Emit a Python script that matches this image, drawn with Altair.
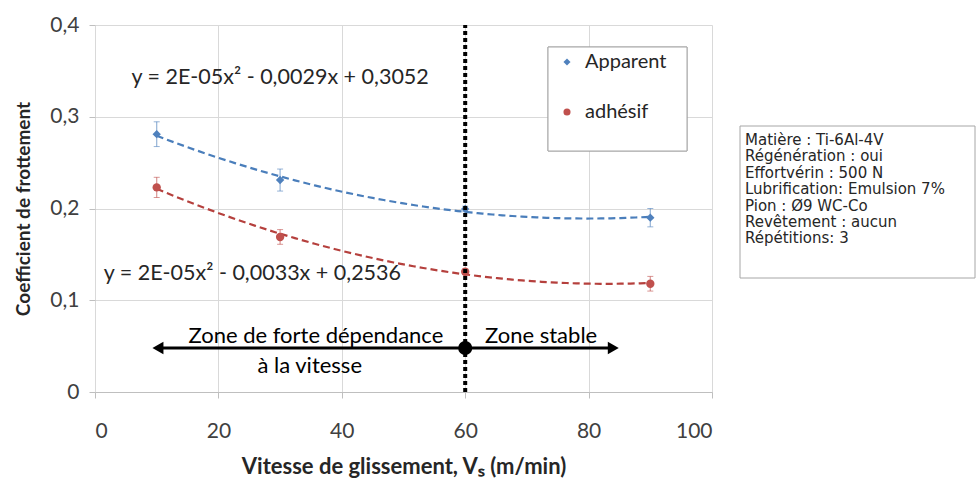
import altair as alt
import pandas as pd

# ---- data ----
vitesse = [10, 30, 60, 90]
apparent = [0.281, 0.231, 0.1995, 0.190]
apparent_err = [0.0135, 0.012, 0.003, 0.010]
adhesif = [0.223, 0.169, 0.131, 0.118]
adhesif_err = [0.011, 0.008, 0.003, 0.008]
series = ["Apparent", "adhésif"]
marker_colors = ["#4F81BD", "#C0504D"]
trend_colors = ["#4A7EBB", "#B5403D"]
shapes = ["diamond", "circle"]
x_ticks = [0, 20, 40, 60, 80, 100]
y_ticks = [0, 0.1, 0.2, 0.3, 0.4]
equations = ["y = 2E-05x² - 0,0029x + 0,3052", "y = 2E-05x² - 0,0033x + 0,2536"]
eq_x = [30, 25.5]
eq_y = [0.342, 0.129]
zone_labels = ["Zone de forte dépendance", "à la vitesse", "Zone stable"]
zone_x = [35.8, 34.8, 72.3]
zone_y = [0.061, 0.028, 0.061]
arrow_from = 10.2
arrow_to = 84
arrow_y = 0.048
split_x = 60
info_lines = ["Matière : Ti-6Al-4V", "Régénération : oui", "Effortvérin : 500 N",
              "Lubrification: Emulsion 7%", "Pion : Ø9 WC-Co", "Revêtement : aucun",
              "Répétitions: 3"]

FONT = "Lato"
W, H = 617, 367

rows = []
for s, ys, es in [(series[0], apparent, apparent_err), (series[1], adhesif, adhesif_err)]:
    for x, y, e in zip(vitesse, ys, es):
        rows.append({"serie": s, "v": x, "mu": y, "lo": y - e, "hi": y + e})
df = pd.DataFrame(rows)

xs = alt.Scale(domain=[0, 100])
ys_ = alt.Scale(domain=[0, 0.4])
color_m = alt.Scale(domain=series, range=marker_colors)
color_t = alt.Scale(domain=series, range=trend_colors)
shape_s = alt.Scale(domain=series, range=shapes)

X = alt.X("v:Q", scale=xs, axis=alt.Axis(
    values=x_ticks, title="Vitesse de glissement, Vₛ (m/min)", grid=True,
    gridColor="#D9D9D9", domainColor="#BFBFBF", tickColor="#BFBFBF", tickSize=6,
    labelFont=FONT, labelFontSize=21, labelColor="#404040", labelPadding=22,
    titleFont=FONT, titleFontSize=22, titleFontWeight="bold", titleColor="#262626",
    titlePadding=15))
Y = alt.Y("mu:Q", scale=ys_, axis=alt.Axis(
    values=y_ticks, title="Coefficient de frottement", grid=True,
    gridColor="#D9D9D9", domain=False, tickColor="#BFBFBF", tickSize=6,
    labelExpr="datum.value == 0 ? '0' : replace(format(datum.value, '.1f'), '.', ',')",
    labelFont=FONT, labelFontSize=21, labelColor="#404040", labelPadding=10,
    titleFont=FONT, titleFontSize=19, titleFontWeight="bold", titleColor="#262626",
    titlePadding=16))

base = alt.Chart(df)

trend = base.transform_regression(
    "v", "mu", groupby=["serie"], method="poly", order=2, extent=[10, 90]
).mark_line(strokeDash=[7, 4], strokeWidth=2.2).encode(
    x=X, y=Y, color=alt.Color("serie:N", scale=color_t, legend=None))

err = base.mark_rule(strokeWidth=1.2, opacity=0.6).encode(
    x="v:Q", y="lo:Q", y2="hi:Q",
    color=alt.Color("serie:N", scale=color_m, legend=None))
cap_lo = base.mark_tick(orient="horizontal", size=6, thickness=1, opacity=0.6).encode(
    x="v:Q", y="lo:Q", color=alt.Color("serie:N", scale=color_m, legend=None))
cap_hi = base.mark_tick(orient="horizontal", size=6, thickness=1, opacity=0.6).encode(
    x="v:Q", y="hi:Q", color=alt.Color("serie:N", scale=color_m, legend=None))

pts = base.mark_point(filled=True, size=70, opacity=1).encode(
    x="v:Q", y="mu:Q",
    color=alt.Color("serie:N", scale=color_m, legend=None),
    shape=alt.Shape("serie:N", scale=shape_s, legend=None))

# vertical dotted split line
split_df = pd.DataFrame({"v": [split_x], "mu": [0], "top": [0.4]})
split = alt.Chart(split_df).mark_rule(color="black", strokeWidth=4, strokeDash=[4, 3]).encode(
    x="v:Q", y="mu:Q", y2="top:Q")

# arrow
arrow_df = pd.DataFrame({"v": [arrow_from], "v2": [arrow_to], "mu": [arrow_y]})
arrow_line = alt.Chart(arrow_df).mark_rule(color="black", strokeWidth=3).encode(
    x="v:Q", x2="v2:Q", y="mu:Q")
heads_df = pd.DataFrame({"v": [arrow_from, arrow_to], "mu": [arrow_y, arrow_y],
                         "dir": ["triangle-left", "triangle-right"]})
heads = alt.Chart(heads_df).mark_point(filled=True, color="black", size=160, opacity=1).encode(
    x="v:Q", y="mu:Q",
    shape=alt.Shape("dir:N", scale=alt.Scale(domain=["triangle-left", "triangle-right"],
                                             range=["triangle-left", "triangle-right"]), legend=None))
dot_df = pd.DataFrame({"v": [split_x], "mu": [arrow_y]})
dot = alt.Chart(dot_df).mark_point(filled=True, color="black", size=200, opacity=1).encode(
    x="v:Q", y="mu:Q")

zone_df = pd.DataFrame({"v": zone_x, "mu": zone_y, "t": zone_labels})
zones = alt.Chart(zone_df).mark_text(font=FONT, fontSize=22, color="black", align="center",
                                     baseline="middle").encode(x="v:Q", y="mu:Q", text="t:N")

eq_df = pd.DataFrame({"v": eq_x, "mu": eq_y, "t": equations})
eqs = alt.Chart(eq_df).mark_text(font=FONT, fontSize=21.5, color="#262626", align="center",
                                 baseline="middle").encode(x="v:Q", y="mu:Q", text="t:N")

# manual legend box
leg_df = pd.DataFrame({"serie": series})
leg_box = alt.Chart(leg_df).mark_rect(fill="white", stroke="#A6A6A6", strokeWidth=1).encode(
    x=alt.value(453), x2=alt.value(592), y=alt.value(22), y2=alt.value(126))
leg_pt_df = pd.DataFrame({"serie": series, "yy": [37, 87]})
leg_pts = alt.Chart(leg_pt_df).mark_point(filled=True, size=50, opacity=1).encode(
    x=alt.value(472), y=alt.Y("yy:Q", scale=None),
    color=alt.Color("serie:N", scale=color_m, legend=None),
    shape=alt.Shape("serie:N", scale=shape_s, legend=None))
leg_txt = alt.Chart(leg_pt_df).mark_text(font=FONT, fontSize=20, color="#262626", align="left",
                                         baseline="middle").encode(
    x=alt.value(490), y=alt.Y("yy:Q", scale=None), text="serie:N")

# info box outside the plot
info_df = pd.DataFrame({"t": info_lines, "yy": [115 + 16.4 * i for i in range(len(info_lines))]})
info_box = alt.Chart(pd.DataFrame({"a": [0]})).mark_rect(fill="white", stroke="#A6A6A6",
                                                          strokeWidth=1).encode(
    x=alt.value(645), x2=alt.value(880), y=alt.value(101), y2=alt.value(253))
info_txt = alt.Chart(info_df).mark_text(font="DejaVu Sans", fontSize=15, color="#262626",
                                        align="left", baseline="middle").encode(
    x=alt.value(650), y=alt.Y("yy:Q", scale=None), text="t:N")

chart = alt.layer(
    trend, err, cap_lo, cap_hi, pts, split, arrow_line, heads, dot, zones, eqs,
    leg_box, leg_pts, leg_txt, info_box, info_txt
).resolve_scale(color="independent", shape="independent").properties(
    width=W, height=H,
    autosize=alt.AutoSizeParams(type="none"),
    padding={"left": 95, "top": 25, "right": 266, "bottom": 88},
    background="white",
).configure_view(stroke=None)

chart.save("out.html", embed_options={"renderer": "svg", "actions": False})
